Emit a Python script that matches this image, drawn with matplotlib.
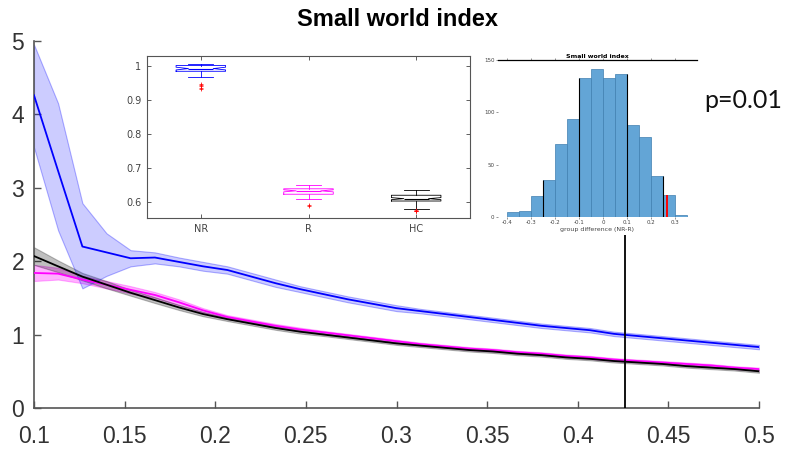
import matplotlib.pyplot as plt
import numpy as np

# network density thresholds
density = [0.1, 0.1133, 0.1267, 0.14, 0.1533, 0.1667, 0.18, 0.1933, 0.2067, 0.22,
           0.2333, 0.2467, 0.26, 0.2733, 0.2867, 0.3, 0.3133, 0.3267, 0.34, 0.3533,
           0.3667, 0.38, 0.3933, 0.4067, 0.42, 0.4333, 0.4467, 0.46, 0.4733, 0.4867, 0.5]

# small world index, NR group (mean and band limits)
nr_mean = [4.26, 3.23, 2.20, 2.12, 2.04, 2.05, 1.99, 1.93, 1.88, 1.79,
           1.70, 1.62, 1.55, 1.48, 1.42, 1.36, 1.32, 1.28, 1.24, 1.20,
           1.16, 1.12, 1.09, 1.06, 1.01, 0.98, 0.95, 0.92, 0.89, 0.86, 0.83]
nr_upper = [4.95, 4.15, 2.79, 2.38, 2.15, 2.12, 2.05, 1.99, 1.93, 1.84,
            1.75, 1.66, 1.59, 1.52, 1.46, 1.40, 1.35, 1.31, 1.27, 1.23,
            1.19, 1.15, 1.12, 1.09, 1.04, 1.01, 0.98, 0.95, 0.92, 0.89, 0.86]
nr_lower = [3.55, 2.42, 1.63, 1.80, 1.93, 1.97, 1.93, 1.87, 1.83, 1.74,
            1.65, 1.58, 1.51, 1.44, 1.38, 1.32, 1.29, 1.25, 1.21, 1.17,
            1.13, 1.09, 1.06, 1.03, 0.98, 0.95, 0.92, 0.89, 0.86, 0.83, 0.80]

# R group
r_mean = [1.84, 1.83, 1.75, 1.68, 1.61, 1.54, 1.44, 1.33, 1.24, 1.18,
          1.12, 1.07, 1.03, 0.99, 0.95, 0.91, 0.87, 0.84, 0.81, 0.79,
          0.76, 0.74, 0.71, 0.69, 0.66, 0.64, 0.62, 0.60, 0.58, 0.55, 0.53]
r_err = [0.11, 0.08, 0.05, 0.05, 0.05, 0.04, 0.04, 0.03, 0.025, 0.025,
         0.025, 0.025, 0.02, 0.02, 0.02, 0.02, 0.02, 0.02, 0.02, 0.02,
         0.02, 0.02, 0.02, 0.02, 0.02, 0.02, 0.02, 0.02, 0.02, 0.02, 0.02]

# HC group
hc_mean = [2.07, 1.93, 1.79, 1.68, 1.57, 1.47, 1.37, 1.28, 1.21, 1.15,
           1.09, 1.04, 1.00, 0.96, 0.92, 0.88, 0.85, 0.82, 0.79, 0.77,
           0.74, 0.72, 0.69, 0.67, 0.64, 0.62, 0.60, 0.57, 0.55, 0.53, 0.50]
hc_err = [0.12, 0.08, 0.05, 0.05, 0.04, 0.04, 0.035, 0.03, 0.025, 0.025,
          0.025, 0.025, 0.02, 0.02, 0.02, 0.02, 0.02, 0.02, 0.02, 0.02,
          0.02, 0.02, 0.02, 0.02, 0.02, 0.02, 0.02, 0.02, 0.02, 0.02, 0.02]

marked_density = 0.426
marker_top = 2.36

# boxplot summary per group at the marked density
groups = ['NR', 'R', 'HC']
group_colors = ['#0000ff', '#ff00ff', '#000000']
box_med = [0.993, 0.633, 0.610]
box_q1 = [0.985, 0.623, 0.603]
box_q3 = [1.002, 0.639, 0.620]
box_lo = [0.967, 0.609, 0.580]
box_hi = [1.007, 0.649, 0.636]
box_cilo = [0.989, 0.630, 0.607]
box_cihi = [0.997, 0.636, 0.613]
box_fliers = [[0.949, 0.945, 0.942, 0.937, 0.932], [0.590, 0.587],
              [0.577, 0.575, 0.574, 0.573]]

# permutation test: null distribution of group difference (NR-R)
perm_edges = [-0.4, -0.35, -0.3, -0.25, -0.2, -0.15, -0.1, -0.05, 0.0,
              0.05, 0.1, 0.15, 0.2, 0.25, 0.3, 0.35]
perm_counts = [5, 6, 20, 35, 70, 94, 133, 141, 133, 137, 88, 76, 39, 21, 2]
dark_edges = [3, 6, 10, 13]
observed_diff = 0.267
p_text = 'p=0.01'

tick_col = '#333333'
axis_col = '#555555'

fig = plt.figure(figsize=(7.86, 4.49), dpi=100, facecolor='white')

# ---- main panel ----
ax = fig.add_axes([34/786, 41/449, 725/786, 367/449])
for mean, err, col, a in [(r_mean, r_err, '#ff00ff', 0.3), (hc_mean, hc_err, '#000000', 0.25)]:
    m = np.array(mean)
    e = np.array(err)
    ax.fill_between(density, m - e, m + e, facecolor=col, alpha=a, edgecolor=col,
                    linewidth=0.8, zorder=2)
    ax.plot(density, m, color=col, lw=1.3, zorder=3)
ax.fill_between(density, nr_lower, nr_upper, facecolor=(0, 0, 1, 0.2),
                edgecolor=(0, 0, 1, 0.3), linewidth=0.8, zorder=2)
ax.plot(density, nr_mean, color='#0000ff', lw=1.3, zorder=3)
ax.vlines(marked_density, 0, marker_top, color='black', lw=1.3, zorder=4)

ax.set_xlim(0.1, 0.5)
ax.set_ylim(0, 5)
ax.set_xticks([0.1, 0.15, 0.2, 0.25, 0.3, 0.35, 0.4, 0.45, 0.5])
ax.set_xticklabels(['0.1', '0.15', '0.2', '0.25', '0.3', '0.35', '0.4', '0.45', '0.5'])
ax.set_yticks([0, 1, 2, 3, 4, 5])
for s in ['top', 'right']:
    ax.spines[s].set_visible(False)
for s in ['left', 'bottom']:
    ax.spines[s].set_color(axis_col)
    ax.spines[s].set_linewidth(1.2)
ax.tick_params(direction='in', length=5, width=1, color=axis_col, labelcolor=tick_col)
ax.tick_params(axis='x', pad=12)
ax.tick_params(axis='y', pad=7)
for lab in ax.get_xticklabels() + ax.get_yticklabels():
    lab.set_fontfamily('Liberation Sans')
    lab.set_fontsize(16.5)

fig.text(397/786, 1 - 20/449, 'Small world index', ha='center', va='center',
         fontsize=17, fontweight='bold', family='Liberation Sans')
fig.text(704/786, 1 - 100/449, p_text, ha='left', va='center', fontsize=18,
         family='Lato', color='#111111')

# ---- boxplot inset ----
bx = fig.add_axes([147/786, (449-218)/449, 323/786, 162/449])
for i in range(3):
    st = dict(med=box_med[i], q1=box_q1[i], q3=box_q3[i], whislo=box_lo[i],
              whishi=box_hi[i], cilo=box_cilo[i], cihi=box_cihi[i],
              fliers=box_fliers[i], label=groups[i])
    c = group_colors[i]
    bx.bxp([st], positions=[i + 1], widths=0.46, shownotches=True, capwidths=0.23,
           boxprops=dict(color=c, lw=0.6), medianprops=dict(color=c, lw=0.8),
           whiskerprops=dict(color=c, lw=0.6, linestyle='-'), capprops=dict(color=c, lw=0.6),
           flierprops=dict(marker='+', markeredgecolor='red', markersize=3.5, mew=0.5))
bx.set_xlim(0.5, 3.5)
bx.set_ylim(0.553, 1.03)
bx.set_xticks([1, 2, 3])
bx.set_xticklabels(groups)
bx.set_yticks([0.6, 0.7, 0.8, 0.9, 1.0])
bx.set_yticklabels(['0.6', '0.7', '0.8', '0.9', '1'])
bx.tick_params(direction='in', length=3, width=0.6, labelsize=7, colors='#444444',
               top=True, right=True, pad=4)
for s in bx.spines.values():
    s.set_color('#555555')
    s.set_linewidth(0.8)

# ---- permutation histogram inset ----
hx = fig.add_axes([498/786, (449-217)/449, 199/786, 157/449])
widths = np.diff(perm_edges)
hx.bar(perm_edges[:-1], perm_counts, width=widths, align='edge', color='#63a5d6',
       edgecolor='#3f7fb0', linewidth=0.5)
for k in dark_edges:
    h = max(perm_counts[k - 1], perm_counts[k])
    hx.vlines(perm_edges[k], 0, h, color='black', lw=0.8)
hx.vlines(observed_diff, 0, perm_counts[13], color='red', lw=1.4)
hx.set_xlim(-0.436, 0.39)
hx.set_ylim(0, 150)
hx.set_xticks([-0.4, -0.3, -0.2, -0.1, 0, 0.1, 0.2, 0.3])
hx.set_xticklabels(['-0.4', '-0.3', '-0.2', '-0.1', '0', '0.1', '0.2', '0.3'])
hx.set_yticks([0, 50, 100, 150])
for s in ['left', 'right', 'bottom']:
    hx.spines[s].set_visible(False)
hx.spines['top'].set_linewidth(0.9)
hx.tick_params(labelsize=4, length=1.5, width=0.4, pad=1, colors='#444444', top=True)
hx.set_title('Small world index', fontsize=4.5, fontweight='bold', pad=1.5)
hx.set_xlabel('group difference (NR-R)', fontsize=4.5, labelpad=1, color='#444444')

fig.savefig('out.png', dpi=100)
